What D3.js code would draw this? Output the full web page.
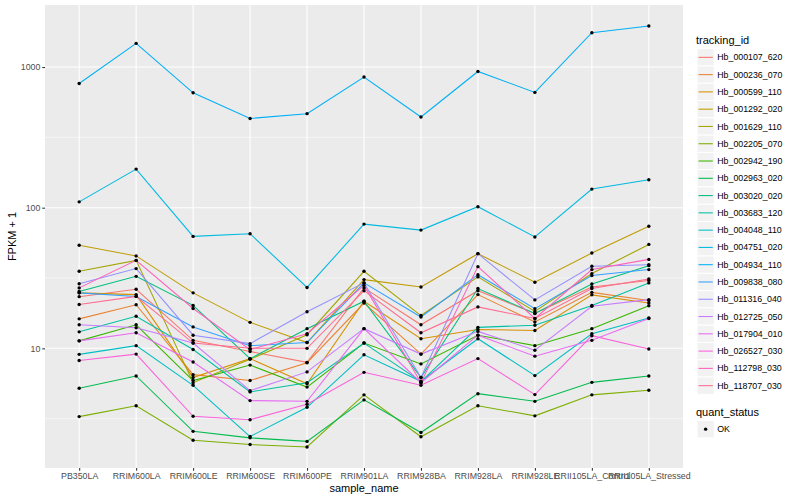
<!DOCTYPE html>
<html lang="en">
<head>
<meta charset="UTF-8">
<title>FPKM by sample</title>
<script src="https://d3js.org/d3.v7.min.js"></script>
<style>
  body { margin: 0; background: #fff; }
  text { font-family: "Liberation Sans", Arial, Helvetica, sans-serif; }
</style>
</head>
<body>
<div id="chart"></div>
<script>
// samples on the x axis
var samples = ["PB350LA", "RRIM600LA", "RRIM600LE", "RRIM600SE", "RRIM600PE", "RRIM901LA",
  "RRIM928BA", "RRIM928LA", "RRIM928LE", "RRII105LA_Control", "RRII105LA_Stressed"]

var trackingIds = ["Hb_000107_620", "Hb_000236_070", "Hb_000599_110", "Hb_001292_020", "Hb_001629_110",
  "Hb_002205_070", "Hb_002942_190", "Hb_002963_020", "Hb_003020_020", "Hb_003683_120",
  "Hb_004048_110", "Hb_004751_020", "Hb_004934_110", "Hb_009838_080", "Hb_011316_040",
  "Hb_012725_050", "Hb_017904_010", "Hb_026527_030", "Hb_112798_030", "Hb_118707_030"]

// FPKM + 1, one array per gene, in sample order
var hb_000107_620 = [23.3, 26.3, 11.4, 9.5, 7.95, 26.9, 14.7, 25.7, 17.7, 27.3, 30.4]
var hb_000236_070 = [16.2, 20.4, 6.5, 5.9, 7.9, 21.0, 9.1, 24.1, 15.4, 25.0, 21.9]
var hb_000599_110 = [24.8, 24.1, 6.2, 8.45, 5.6, 21.6, 11.7, 13.6, 13.4, 24.0, 21.0]
var hb_001292_020 = [54.0, 45.4, 24.8, 15.3, 11.0, 30.8, 27.3, 47.1, 29.5, 47.6, 73.7]
var hb_001629_110 = [35.3, 42.2, 5.7, 8.35, 12.5, 35.3, 17.1, 32.2, 18.3, 34.0, 54.8]
var hb_002205_070 = [3.27, 3.91, 2.22, 2.07, 1.99, 4.67, 2.35, 3.91, 3.31, 4.67, 5.03]
var hb_002942_190 = [11.3, 14.7, 5.9, 7.6, 5.3, 10.9, 7.75, 12.4, 10.45, 13.8, 20.1]
var hb_002963_020 = [5.2, 6.36, 2.57, 2.31, 2.18, 4.3, 2.52, 4.76, 4.2, 5.73, 6.36]
var hb_003020_020 = [25.4, 32.5, 20.2, 8.45, 13.8, 21.6, 6.2, 26.6, 17.7, 28.7, 38.7]
var hb_003683_120 = [13.1, 16.9, 9.8, 4.9, 5.7, 10.9, 5.8, 14.1, 14.6, 20.2, 29.2]
var hb_004048_110 = [9.06, 10.45, 5.46, 2.36, 3.81, 9.0, 5.83, 11.7, 6.4, 12.7, 16.45]
var hb_004751_020 = [110, 188, 62.5, 65.3, 27.1, 76.4, 69.3, 101.6, 61.9, 135.6, 158]
var hb_004934_110 = [764, 1472, 656, 431, 466, 849, 441, 930, 660, 1753, 1956]
var hb_009838_080 = [24.8, 23.4, 14.2, 10.45, 11.0, 29.2, 16.7, 33.4, 19.15, 32.9, 36.3]
var hb_011316_040 = [28.8, 36.9, 12.4, 10.8, 18.2, 29.2, 6.2, 47.1, 22.1, 38.3, 39.3]
var hb_012725_050 = [14.7, 14.0, 10.9, 5.0, 6.8, 13.8, 9.1, 13.2, 9.7, 19.9, 22.2]
var hb_017904_010 = [11.3, 12.9, 8.0, 4.25, 4.2, 13.8, 5.7, 12.4, 8.8, 11.4, 16.3]
var hb_026527_030 = [8.2, 9.1, 3.29, 3.11, 4.0, 6.75, 5.46, 8.45, 4.69, 12.3, 9.9]
var hb_112798_030 = [26.9, 42.2, 19.2, 9.8, 12.7, 28.0, 5.7, 38.1, 16.3, 36.3, 42.9]
var hb_118707_030 = [20.5, 23.4, 10.9, 10.0, 10.0, 25.7, 12.9, 19.7, 16.3, 26.6, 31.1]

var yTicks = [10, 100, 1000]
var yMinor = [3.162, 31.62, 316.2]

var seriesValues = [hb_000107_620, hb_000236_070, hb_000599_110, hb_001292_020, hb_001629_110,
  hb_002205_070, hb_002942_190, hb_002963_020, hb_003020_020, hb_003683_120,
  hb_004048_110, hb_004751_020, hb_004934_110, hb_009838_080, hb_011316_040,
  hb_012725_050, hb_017904_010, hb_026527_030, hb_112798_030, hb_118707_030]

// ggplot default hue palette for 20 levels
var palette = ["#F8766D", "#EA8331", "#D89000", "#C09B00", "#A3A500", "#7CAE00", "#39B600",
  "#00BB4E", "#00BF7D", "#00C1A3", "#00BFC4", "#00BAE0", "#00B0F6", "#35A2FF", "#9590FF",
  "#C77CFF", "#E76BF3", "#FA62DB", "#FF62BC", "#FF6C91"]

var width = 800, height = 500
var panel = { left: 45, top: 5, right: 683, bottom: 468 }

var svg = d3.select("#chart").append("svg")
  .attr("width", width)
  .attr("height", height)

var series = trackingIds.map(function(id, i) {
  return { id: id, values: seriesValues[i].map(function(v, j) { return { sample: samples[j], value: v } }) }
})

// log scale, expanded by 5% of the log range like ggplot
var allVals = [].concat.apply([], seriesValues)
var lo = Math.log10(d3.min(allVals)), hi = Math.log10(d3.max(allVals))
var pad = (hi - lo) * 0.05

var x = d3.scalePoint().domain(samples).range([panel.left, panel.right]).padding(0.6)
var y = d3.scaleLog().domain([Math.pow(10, lo - pad), Math.pow(10, hi + pad)])
  .range([panel.bottom, panel.top])
var color = d3.scaleOrdinal().domain(trackingIds).range(palette)

// panel background
svg.append("rect")
  .attr("x", panel.left).attr("y", panel.top)
  .attr("width", panel.right - panel.left).attr("height", panel.bottom - panel.top)
  .attr("fill", "#EBEBEB")

var grid = svg.append("g")
grid.selectAll(".minor").data(yMinor).enter().append("line")
  .attr("x1", panel.left).attr("x2", panel.right)
  .attr("y1", function(d) { return y(d) }).attr("y2", function(d) { return y(d) })
  .attr("stroke", "#fff").attr("stroke-width", 0.53)
grid.selectAll(".major").data(yTicks).enter().append("line")
  .attr("x1", panel.left).attr("x2", panel.right)
  .attr("y1", function(d) { return y(d) }).attr("y2", function(d) { return y(d) })
  .attr("stroke", "#fff").attr("stroke-width", 1.07)
grid.selectAll(".vgrid").data(samples).enter().append("line")
  .attr("x1", function(d) { return x(d) }).attr("x2", function(d) { return x(d) })
  .attr("y1", panel.top).attr("y2", panel.bottom)
  .attr("stroke", "#fff").attr("stroke-width", 1.07)

var line = d3.line()
  .x(function(d) { return x(d.sample) })
  .y(function(d) { return y(d.value) })

svg.append("g").selectAll("path").data(series).enter().append("path")
  .attr("d", function(d) { return line(d.values) })
  .attr("fill", "none")
  .attr("stroke", function(d) { return color(d.id) })
  .attr("stroke-width", 1.07)

var pts = svg.append("g")
series.forEach(function(s) {
  pts.selectAll(null).data(s.values).enter().append("circle")
    .attr("cx", function(d) { return x(d.sample) })
    .attr("cy", function(d) { return y(d.value) })
    .attr("r", 1.7)
    .attr("fill", "#000")
})

// axes
var xAxis = svg.append("g")
  .attr("transform", "translate(0," + panel.bottom + ")")
  .call(d3.axisBottom(x).tickSize(2.7).tickPadding(2))
var yAxis = svg.append("g")
  .attr("transform", "translate(" + panel.left + ",0)")
  .call(d3.axisLeft(y).tickValues(yTicks).tickFormat(d3.format("d")).tickSize(2.7).tickPadding(2))

;[xAxis, yAxis].forEach(function(a) {
  a.select(".domain").remove()
  a.selectAll(".tick line").attr("stroke", "#333").attr("stroke-width", 1.07)
  a.selectAll(".tick text").attr("fill", "#4D4D4D").style("font-size", "8.8px")
    .style("font-family", "'Liberation Sans', Arial, sans-serif")
})

svg.append("text")
  .attr("x", (panel.left + panel.right) / 2).attr("y", 492)
  .attr("text-anchor", "middle").style("font-size", "11px")
  .text("sample_name")

svg.append("text")
  .attr("transform", "translate(16," + ((panel.top + panel.bottom) / 2) + ") rotate(-90)")
  .attr("text-anchor", "middle").style("font-size", "11px")
  .text("FPKM + 1")

// legend: tracking_id
var legend = svg.append("g")
legend.append("text").attr("x", 696).attr("y", 44).style("font-size", "11px").text("tracking_id")
var keySize = 17.28, keyTop = 48.7
var items = legend.selectAll(".item").data(trackingIds).enter().append("g")
  .attr("transform", function(d, i) { return "translate(697," + (keyTop + i * keySize) + ")" })
items.append("rect").attr("width", keySize).attr("height", keySize)
  .attr("fill", "#F2F2F2").attr("stroke", "#fff").attr("stroke-width", 1)
items.append("line")
  .attr("x1", 1.5).attr("x2", keySize - 1.5)
  .attr("y1", keySize / 2).attr("y2", keySize / 2)
  .attr("stroke", function(d) { return color(d) }).attr("stroke-width", 1.07)
items.append("text")
  .attr("x", keySize + 3).attr("y", keySize / 2).attr("dy", "0.35em")
  .style("font-size", "8.8px").text(function(d) { return d })

// legend: quant_status
legend.append("text").attr("x", 696).attr("y", 416).style("font-size", "11px").text("quant_status")
var ok = legend.append("g").attr("transform", "translate(697,420.5)")
ok.append("rect").attr("width", keySize).attr("height", keySize)
  .attr("fill", "#F2F2F2").attr("stroke", "#fff")
ok.append("circle").attr("cx", keySize / 2).attr("cy", keySize / 2).attr("r", 1.7).attr("fill", "#000")
ok.append("text").attr("x", keySize + 3).attr("y", keySize / 2).attr("dy", "0.35em")
  .style("font-size", "8.8px").text("OK")
</script>
</body>
</html>
